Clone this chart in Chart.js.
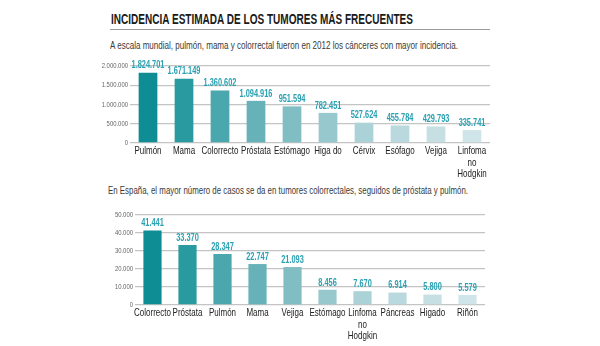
<!DOCTYPE html>
<html>
<head>
<meta charset="utf-8">
<script src="https://cdn.jsdelivr.net/npm/chart.js@4/dist/chart.umd.min.js"></script>
<style>
  html, body { margin:0; padding:0; background:#fff; }
  body { width:600px; height:346px; position:relative; overflow:hidden;
         font-family:"Liberation Sans",Arial,sans-serif; }
  .txt { position:absolute; white-space:nowrap; transform-origin:0 50%; display:inline-block; }
  .title { left:111px; top:11px; font-size:14.5px; font-weight:bold; color:#1a1a1a; }
  .rule { position:absolute; left:110px; top:29px; width:380px; height:1px; background:#9c9c9c; }
  .sub { font-size:10.5px; color:#3a3a3a; }
  .box { position:absolute; left:0; width:600px; }
</style>
</head>
<body>
<div class="txt title" data-w="302">INCIDENCIA ESTIMADA DE LOS TUMORES MÁS FRECUENTES</div>
<div class="rule"></div>
<div class="txt sub" data-w="348" style="left:110px; top:39px;">A escala mundial, pulmón, mama y colorrectal fueron en 2012 los cánceres con mayor incidencia.</div>
<div class="box" style="top:56px; height:126px;"><canvas id="c1"></canvas></div>
<div class="txt sub" data-w="360" style="left:108px; top:184px;">En España, el mayor número de casos se da en tumores colorrectales, seguidos de próstata y pulmón.</div>
<div class="box" style="top:205px; height:140px;"><canvas id="c2"></canvas></div>
<script>
// ---- data ----
const worldCategories = ['Pulmón','Mama','Colorrecto','Próstata','Estómago','Higa do','Cérvix','Esófago','Vejiga',['Linfoma','no','Hodgkin']];
const worldValues = [1824701,1671149,1360602,1094916,951594,782451,527624,455784,429793,335741];
const worldTicks = [0,500000,1000000,1500000,2000000];

const spainCategories = ['Colorrecto','Próstata','Pulmón','Mama','Vejiga','Estómago',['Linfoma','no','Hodgkin'],'Páncreas','Higado','Riñón'];
const spainValues = [41441,33370,28347,22747,21093,8456,7670,6914,5800,5579];
const spainTicks = [0,10000,20000,30000,40000,50000];

// ---- styles ----
const barColors = ['#0f8d94','#2a9aa1','#4aa7ad','#66b2b8','#80bec4','#96c8cd','#aad2d7','#b9d9de','#c5dfe3','#d0e5e9'];
const FONT = "'Liberation Sans',Arial,sans-serif";
const CONDENSE = 0.74;

// condense HTML text to target widths
document.querySelectorAll('.txt[data-w]').forEach(el=>{
  const w = el.getBoundingClientRect().width;
  el.style.transform = 'scaleX(' + (parseFloat(el.dataset.w)/w) + ')';
});

function fmt(n){ return String(n).replace(/\B(?=(\d{3})+(?!\d))/g,'.'); }

const condensedText = {
  id:'condensedText',
  beforeInit(chart){
    const ctx = chart.ctx;
    if (ctx._condensed) return;
    const orig = ctx.fillText.bind(ctx);
    ctx.fillText = function(t,x,y){
      ctx.save(); ctx.translate(x,y); ctx.scale(CONDENSE,1); orig(t,0,0); ctx.restore();
    };
    ctx._condensed = true;
  }
};

const valueLabels = {
  id:'valueLabels',
  afterDatasetsDraw(chart){
    const ctx = chart.ctx;
    const meta = chart.getDatasetMeta(0);
    const vals = chart.data.datasets[0].data;
    ctx.save();
    ctx.font = "bold 10px " + FONT;
    ctx.fillStyle = '#2aa1b2';
    ctx.textAlign = 'center';
    ctx.textBaseline = 'bottom';
    meta.data.forEach((bar,i)=>{ ctx.fillText(fmt(vals[i]), bar.x, bar.y - 2); });
    ctx.restore();
  }
};

function makeChart(id, cats, vals, ticks, yWidth, padRight, xHeight){
  new Chart(document.getElementById(id), {
    type:'bar',
    data:{ labels:cats, datasets:[{ data:vals, backgroundColor:barColors, borderWidth:0,
           barPercentage:0.52, categoryPercentage:1 }] },
    options:{
      responsive:true, maintainAspectRatio:false, animation:false,
      layout:{ padding:{ top:10, right:padRight, left:0, bottom:0 } },
      plugins:{ legend:{display:false}, tooltip:{enabled:false}, title:{display:false} },
      scales:{
        x:{
          grid:{ display:false, drawTicks:false },
          border:{ display:false },
          ticks:{ autoSkip:false, maxRotation:0, padding:3, color:'#222',
                  font:{ family:FONT, size:10.8, lineHeight:1.02 } },
          afterFit: s => { s.height = xHeight; }
        },
        y:{
          min:ticks[0], max:ticks[ticks.length-1],
          afterBuildTicks: s => { s.ticks = ticks.map(v=>({value:v})); },
          grid:{ color:'#c4c4c4', lineWidth:1.3, drawTicks:false },
          border:{ display:false },
          ticks:{ padding:2, color:'#666', font:{ family:FONT, size:8 },
                  callback: v => fmt(v) },
          afterFit: s => { s.width = yWidth; }
        }
      }
    },
    plugins:[condensedText, valueLabels]
  });
}

makeChart('c1', worldCategories, worldValues, worldTicks, 130, 110, 39);
makeChart('c2', spainCategories, spainValues, spainTicks, 135, 115, 40);
</script>
</body>
</html>
